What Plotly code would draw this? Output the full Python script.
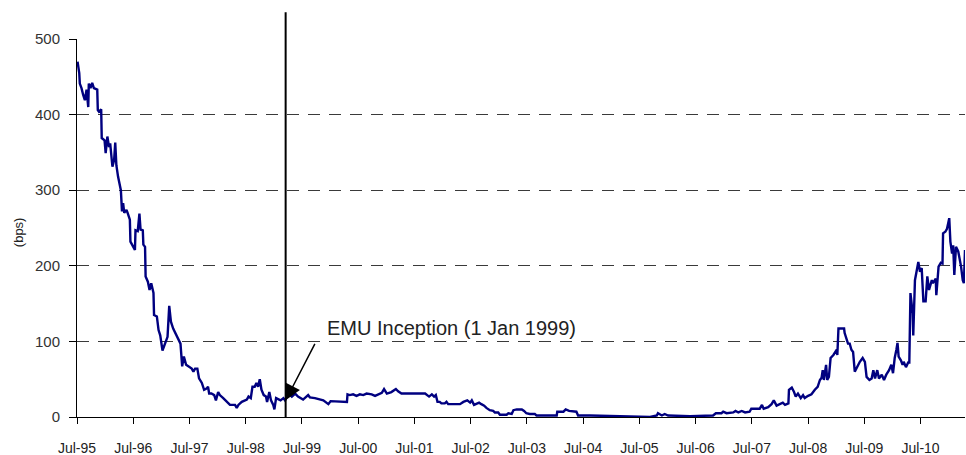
import plotly.graph_objects as go

# Decimal years (time) and spread values in bps
years = [
    1995.51, 1995.54, 1995.55, 1995.58, 1995.61, 1995.64, 1995.67, 1995.70, 1995.71, 1995.74,
    1995.77, 1995.80, 1995.86, 1995.87, 1995.89, 1995.93, 1995.94, 1995.99, 1996.01, 1996.04,
    1996.07, 1996.09, 1996.13, 1996.16, 1996.18, 1996.20, 1996.23, 1996.28, 1996.30, 1996.32,
    1996.34, 1996.38, 1996.40, 1996.44, 1996.45, 1996.53, 1996.54, 1996.58, 1996.61, 1996.63,
    1996.67, 1996.68, 1996.71, 1996.72, 1996.76, 1996.79, 1996.82, 1996.86, 1996.87, 1996.92,
    1996.95, 1996.98, 1997.02, 1997.06, 1997.11, 1997.14, 1997.17, 1997.21, 1997.27, 1997.31,
    1997.34, 1997.37, 1997.40, 1997.44, 1997.48, 1997.54, 1997.57, 1997.60, 1997.64, 1997.67,
    1997.72, 1997.76, 1997.81, 1997.83, 1997.85, 1997.89, 1997.94, 1997.97, 1998.01, 1998.04,
    1998.10, 1998.16, 1998.22, 1998.31, 1998.34, 1998.37, 1998.43, 1998.52, 1998.55, 1998.59,
    1998.62, 1998.66, 1998.69, 1998.72, 1998.75, 1998.78, 1998.82, 1998.86, 1998.88, 1998.92,
    1998.95, 1998.99, 1999.01, 1999.04, 1999.08, 1999.12, 1999.17, 1999.20, 1999.26, 1999.32,
    1999.38, 1999.43, 1999.52, 1999.61, 1999.64, 1999.73, 1999.88, 1999.97, 2000.01, 2000.30,
    2000.31, 2000.35, 2000.41, 2000.47, 2000.53, 2000.59, 2000.65, 2000.74, 2000.80, 2000.86,
    2000.92, 2000.96, 2001.01, 2001.09, 2001.17, 2001.21, 2001.27, 2001.69, 2001.72, 2001.76,
    2001.81, 2001.85, 2001.88, 2001.91, 2001.95, 2001.98, 2002.04, 2002.07, 2002.10, 2002.31,
    2002.37, 2002.44, 2002.49, 2002.52, 2002.56, 2002.61, 2002.65, 2002.69, 2002.74, 2002.78,
    2002.84, 2002.90, 2002.93, 2002.99, 2003.02, 2003.14, 2003.17, 2003.23, 2003.26, 2003.32,
    2003.41, 2003.45, 2003.49, 2003.55, 2003.64, 2003.67, 2004.03, 2004.04, 2004.15, 2004.19,
    2004.25, 2004.38, 2004.41, 2004.62, 2004.98, 2005.33, 2005.46, 2005.51, 2005.69, 2005.81,
    2005.83, 2005.90, 2005.95, 2006.01, 2006.40, 2006.81, 2006.86, 2006.96, 2006.99, 2007.05,
    2007.17, 2007.21, 2007.26, 2007.32, 2007.38, 2007.46, 2007.49, 2007.64, 2007.68, 2007.71,
    2007.79, 2007.85, 2007.89, 2007.94, 2008.00, 2008.05, 2008.09, 2008.15, 2008.16, 2008.21,
    2008.25, 2008.28, 2008.32, 2008.37, 2008.41, 2008.44, 2008.50, 2008.56, 2008.62, 2008.67,
    2008.71, 2008.74, 2008.76, 2008.78, 2008.82, 2008.84, 2008.87, 2008.90, 2008.95, 2008.98,
    2009.01, 2009.02, 2009.04, 2009.14, 2009.15, 2009.21, 2009.24, 2009.27, 2009.30, 2009.33,
    2009.37, 2009.42, 2009.47, 2009.51, 2009.54, 2009.59, 2009.63, 2009.66, 2009.69, 2009.73,
    2009.76, 2009.81, 2009.85, 2009.89, 2009.94, 2009.98, 2010.01, 2010.04, 2010.07, 2010.09,
    2010.11, 2010.15, 2010.18, 2010.20, 2010.24, 2010.28, 2010.30, 2010.32, 2010.36, 2010.37,
    2010.40, 2010.43, 2010.46, 2010.49, 2010.52, 2010.55, 2010.59, 2010.62, 2010.65, 2010.70,
    2010.72, 2010.77, 2010.78, 2010.82, 2010.86, 2010.89, 2010.90, 2010.94, 2010.97, 2011.01,
    2011.03, 2011.06, 2011.08, 2011.10, 2011.13, 2011.17, 2011.19, 2011.22, 2011.25, 2011.27,
    2011.29,
]

spread_bps = [
    470, 455, 441, 435, 426, 419, 433, 410, 441, 435,
    442, 435, 433, 406, 404, 407, 369, 366, 349, 371,
    357, 362, 331, 340, 363, 333, 318, 300, 272, 283,
    270, 274, 270, 261, 232, 221, 247, 246, 269, 248,
    247, 228, 225, 186, 179, 168, 177, 164, 135, 133,
    115, 108, 88, 97, 106, 147, 126, 117, 108, 100,
    97, 67, 80, 69, 67, 64, 60, 64, 64, 51,
    45, 36, 38, 40, 31, 31, 29, 22, 33, 29,
    25, 20, 16, 16, 12, 16, 20, 23, 27, 25,
    40, 40, 45, 40, 50, 36, 29, 27, 20, 33,
    22, 16, 10, 25, 23, 22, 25, 22, 31, 27,
    31, 27, 23, 29, 26, 25, 22, 17, 21, 20,
    30, 29, 30, 28, 30, 29, 31, 30, 28, 30,
    32, 37, 31, 33, 37, 34, 31, 31, 29, 27,
    30, 27, 29, 20, 20, 18, 18, 20, 17, 17,
    20, 22, 19, 22, 16, 18, 19, 17, 15, 12,
    9, 8, 6, 6, 3, 3, 5, 4, 9, 10,
    10, 8, 5, 4, 4, 2, 2, 7, 7, 10,
    8, 7, 2, 2, 1.5, 1, 0.5, 0, 0, 2,
    5, 2, 4, 2, 1, 2, 5, 5, 7, 5,
    6, 8, 6, 8, 6, 7, 11, 11, 16, 11,
    13, 17, 22, 15, 17, 19, 16, 18, 36, 39,
    33, 27, 31, 25, 29, 25, 28, 30, 36, 40,
    49, 52, 62, 49, 69, 49, 53, 78, 82, 86,
    89, 82, 117, 117, 111, 97, 97, 89, 86, 60,
    66, 73, 78, 73, 53, 49, 51, 62, 51, 62,
    51, 56, 49, 56, 62, 69, 58, 78, 89, 98,
    80, 75, 69, 73, 66, 72, 72, 164, 137, 108,
    181, 194, 205, 192, 197, 153, 153, 186, 168, 181,
    177, 183, 161, 199, 204, 203, 243, 245, 249, 263,
    232, 216, 227, 188, 225, 219, 212, 199, 181, 177,
    221,
]

tick_years = [1995.5 + i for i in range(16)]
tick_labels = ["Jul-95", "Jul-96", "Jul-97", "Jul-98", "Jul-99", "Jul-00", "Jul-01", "Jul-02",
               "Jul-03", "Jul-04", "Jul-05", "Jul-06", "Jul-07", "Jul-08", "Jul-09", "Jul-10"]
y_ticks = [0, 100, 200, 300, 400, 500]

emu_year = 1999.21
emu_label = "EMU Inception (1 Jan 1999)"

FONT = "Liberation Sans, Arial, sans-serif"

fig = go.Figure()
fig.add_trace(go.Scatter(
    x=years, y=spread_bps, mode="lines",
    line=dict(color="#000080", width=2.4),
    showlegend=False,
))

# EMU vertical line (extends above the plot area)
fig.add_shape(type="line", xref="x", yref="paper",
              x0=emu_year, x1=emu_year, y0=0, y1=1.071,
              line=dict(color="black", width=2))

# Arrow
fig.add_annotation(x=emu_year, y=22, xref="x", yref="y", text="",
                   showarrow=True, arrowhead=2, arrowsize=2.1, arrowwidth=1.5,
                   arrowcolor="black", ax=30, ay=-58, standoff=0, startstandoff=0)
# Label
fig.add_annotation(x=1999.91, y=118, xref="x", yref="y", text=emu_label,
                   showarrow=False, xanchor="left", yanchor="middle",
                   font=dict(family=FONT, size=20, color="#222222"))

# y-axis title
fig.add_annotation(x=-0.066, y=0.49, xref="paper", yref="paper", text="(bps)",
                   showarrow=False, textangle=-90, xanchor="center", yanchor="middle",
                   font=dict(family=FONT, size=13, color="#222222"))

fig.update_layout(
    width=966, height=455,
    margin=dict(l=77, r=1, t=39, b=38),
    paper_bgcolor="white", plot_bgcolor="white",
    font=dict(family=FONT, color="#222222"),
    xaxis=dict(
        range=[1995.5, 2011.29], tickmode="array", tickvals=tick_years, ticktext=tick_labels,
        showgrid=False, zeroline=False, showline=True, linecolor="black", linewidth=1,
        ticks="outside", ticklen=6, tickcolor="black", tickwidth=1,
        tickfont=dict(family=FONT, size=14, color="#222222"),
        ticklabelstandoff=12, automargin=False,
    ),
    yaxis=dict(
        range=[0, 500], tickmode="array", tickvals=y_ticks,
        showgrid=True, gridcolor="#3a3a3a", gridwidth=1, griddash="12px,9px",
        zeroline=False, showline=True, linecolor="black", linewidth=1,
        ticks="outside", ticklen=7, tickcolor="black", tickwidth=1,
        tickfont=dict(family=FONT, size=15, color="#333333"),
        ticklabelstandoff=6, automargin=False,
    ),
)

fig.write_html("out.html", config={"displayModeBar": False},
               post_script="document.body.style.margin='0';document.body.style.padding='0';")
